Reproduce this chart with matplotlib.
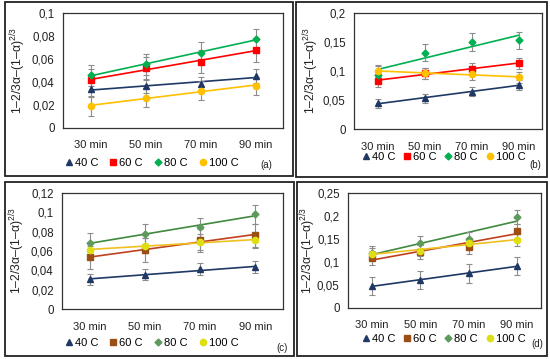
import numpy as np
import matplotlib
matplotlib.use('Agg')
import matplotlib.pyplot as plt
from matplotlib.patches import Rectangle
from matplotlib.lines import Line2D
from matplotlib.ticker import FuncFormatter

plt.rcParams['font.family'] = ['Liberation Sans', 'DejaVu Sans']
plt.rcParams['mathtext.fontset'] = 'custom'
plt.rcParams['mathtext.rm'] = 'Liberation Sans'
plt.rcParams['mathtext.it'] = 'Liberation Sans'

# categories and series
times = ['30 min', '50 min', '70 min', '90 min']
temps = ['40 C', '60 C', '80 C', '100 C']

# panel (a)
a_vals = [[0.0336, 0.0364, 0.0382, 0.0451],
          [0.0416, 0.0518, 0.0575, 0.0674],
          [0.0457, 0.0552, 0.0653, 0.0769],
          [0.0188, 0.0263, 0.0324, 0.0364]]
a_err = [0.006, 0.010, 0.009, 0.008]

# panel (b)
b_vals = [[0.0443, 0.0529, 0.0643, 0.0759],
          [0.0828, 0.0960, 0.1040, 0.1130],
          [0.0936, 0.1316, 0.1500, 0.1530],
          [0.1000, 0.0960, 0.0950, 0.0890]]
b_err = [0.008, 0.010, 0.015, 0.010]

# panel (c)
c_vals = [[0.0307, 0.0355, 0.0411, 0.0432],
          [0.0535, 0.0610, 0.0711, 0.0762],
          [0.0686, 0.0776, 0.0845, 0.0980],
          [0.0610, 0.0655, 0.0693, 0.0711]]
c_err = [0.006, 0.012, 0.010, 0.008]

# panel (d)
d_vals = [[0.0478, 0.0609, 0.0754, 0.0913],
          [0.1080, 0.1224, 0.1333, 0.1680],
          [0.1202, 0.1420, 0.1493, 0.1985],
          [0.1174, 0.1246, 0.1407, 0.1478]]
d_err = [0.020, 0.015, 0.015, 0.012]

markers = ['^', 's', 'D', 'o']
msizes = [4.5, 5, 3.5, 4.5]
colors_top = ['#1f3864', '#ff0000', '#00b050', '#ffc000']
lines_top = ['#1f3864', '#ff0000', '#00b050', '#ffc000']
colors_bot = ['#1f3864', '#9c4f14', '#5e9a5e', '#dede10']
lines_bot = ['#1f3864', '#c0401e', '#3f8a3f', '#f0c020']

W, H = 550, 359
fig = plt.figure(figsize=(5.5, 3.59), dpi=100)


def px_rect(l, t, r, b):
    return [l / W, 1 - b / H, (r - l) / W, (b - t) / H]


# outer panel boxes
for l, t, r, b in [(5, 2, 293, 176), (296, 2, 547, 177), (5, 182, 294, 356), (297, 182, 547, 356)]:
    x, y, w, h = px_rect(l, t, r, b)
    fig.patches.append(Rectangle((x, y), w, h, transform=fig.transFigure,
                                 fill=False, ec='#222222', lw=1.3))

panels = [
    (a_vals, a_err, (63, 12.7, 283, 128), 0.1, 0.02, colors_top, lines_top, -0.159,
     (151, 163), 0.9, '(a)', (266, 165)),
    (b_vals, b_err, (354, 13, 542, 129), 0.2, 0.05, colors_top, lines_top, -0.176,
     (443, 157), 0.6, '(b)', (535, 165)),
    (c_vals, c_err, (62, 193, 283, 309), 0.12, 0.02, colors_bot, lines_bot, -0.158,
     (151, 343), 0.9, '(c)', (282, 348)),
    (d_vals, d_err, (348, 193, 541, 308), 0.25, 0.05, colors_bot, lines_bot, -0.155,
     (443, 339), 0.6, '(d)', (537, 344)),
]

fmt = FuncFormatter(lambda v, p: ('%g' % round(v, 3)).replace('.', ','))
x = np.arange(len(times))

for vals, errs, box, ymax, step, mcols, lcols, ylx, leg_xy, colsp, tag, tag_xy in panels:
    ax = fig.add_axes(px_rect(*box))
    for i, series in enumerate(vals):
        k, c0 = np.polyfit(x, series, 1)
        ax.plot([x[0], x[-1]], [c0, c0 + k * x[-1]], color=lcols[i], lw=1.2, zorder=2)
        ax.errorbar(x, series, yerr=errs[i], fmt=markers[i], color=mcols[i],
                    ms=msizes[i], ecolor='#8c8c8c', elinewidth=0.8, capsize=2,
                    capthick=0.8, zorder=3)
    ax.set_xlim(-0.5, 3.5)
    ax.set_ylim(0, ymax)
    ax.set_yticks(np.arange(0, ymax + step / 2, step))
    ax.yaxis.set_major_formatter(fmt)
    ax.set_xticks(x)
    ax.set_xticklabels(times)
    ax.tick_params(axis='both', length=0, labelsize=8, colors='#222222')
    ax.tick_params(axis='x', pad=9)
    ax.tick_params(axis='y', pad=6, labelsize=8.3)
    for s in ax.spines.values():
        s.set_color('#333333')
        s.set_linewidth(0.9)
    ax.set_ylabel('1–2/3α–(1–α)$^{2/3}$', fontsize=8.8, color='#222222')
    ax.yaxis.set_label_coords(ylx, 0.5)

    handles = [Line2D([], [], ls='none', marker=markers[i], color=mcols[i], ms=msizes[i])
               for i in range(4)]
    fig.legend(handles, temps, loc='center', bbox_to_anchor=(leg_xy[0] / W, 1 - leg_xy[1] / H),
               ncol=4, frameon=False, fontsize=8, handletextpad=0.1, columnspacing=colsp,
               handlelength=0.9, borderaxespad=0)
    fig.text(tag_xy[0] / W, 1 - tag_xy[1] / H, tag, fontsize=7, ha='center', va='center',
             color='#222222')

fig.savefig('out.png', dpi=100)
